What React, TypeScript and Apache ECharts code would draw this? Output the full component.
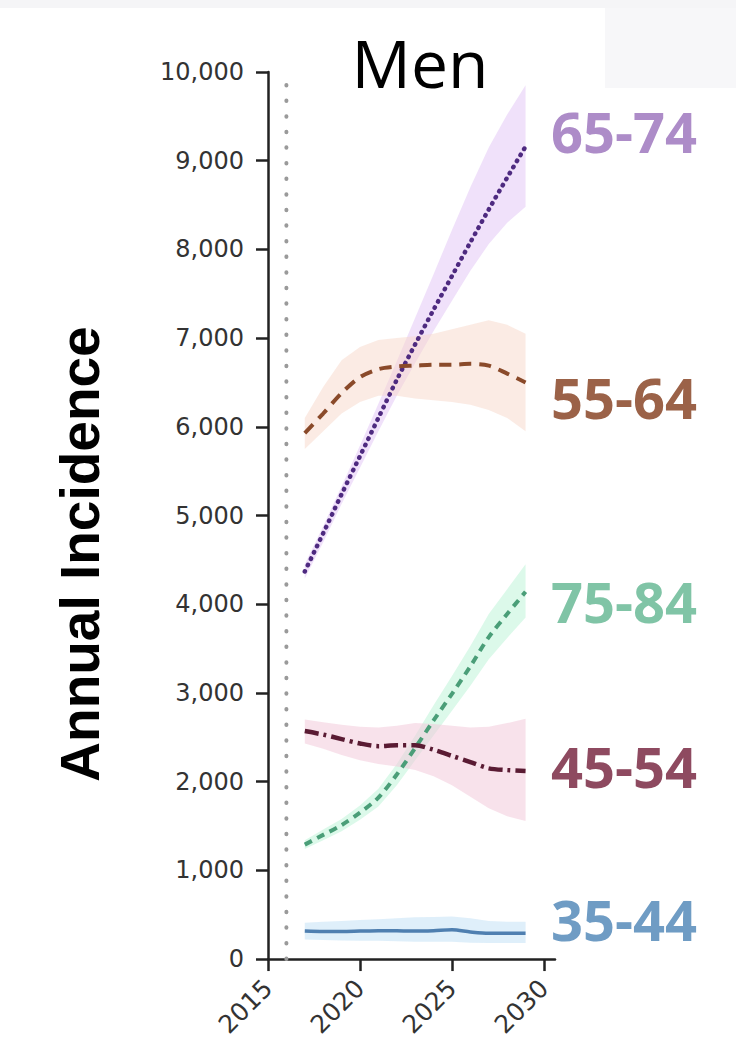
import React, { useEffect, useRef } from "react";
import * as echarts from "echarts";

const years = [2017, 2018, 2019, 2020, 2021, 2022, 2023, 2024, 2025, 2026, 2027, 2028, 2029];

const age6574 = [4370, 4800, 5240, 5670, 6100, 6530, 6930, 7320, 7700, 8080, 8450, 8810, 9160];
const age6574Low = [4290, 4700, 5130, 5540, 5950, 6350, 6720, 7080, 7420, 7760, 8060, 8300, 8480];
const age6574High = [4450, 4880, 5330, 5790, 6260, 6740, 7230, 7720, 8220, 8700, 9150, 9520, 9850];

const age5564 = [5930, 6150, 6380, 6560, 6650, 6680, 6690, 6700, 6700, 6710, 6690, 6600, 6500];
const age5564Low = [5750, 5950, 6150, 6280, 6350, 6350, 6320, 6300, 6280, 6250, 6190, 6100, 5950];
const age5564High = [6100, 6450, 6750, 6900, 6980, 7000, 7020, 7050, 7100, 7150, 7200, 7150, 7050];

const age7584 = [1290, 1400, 1510, 1650, 1820, 2080, 2380, 2690, 2990, 3300, 3630, 3890, 4140];
const age7584Low = [1240, 1340, 1440, 1570, 1720, 1960, 2240, 2520, 2800, 3080, 3380, 3620, 3850];
const age7584High = [1340, 1460, 1580, 1730, 1920, 2200, 2520, 2860, 3190, 3530, 3890, 4170, 4450];

const age4554 = [2570, 2530, 2480, 2430, 2400, 2410, 2410, 2360, 2290, 2220, 2150, 2130, 2120];
const age4554Low = [2430, 2370, 2300, 2240, 2200, 2170, 2130, 2060, 1960, 1830, 1700, 1610, 1555];
const age4554High = [2700, 2670, 2640, 2620, 2610, 2630, 2660, 2650, 2630, 2610, 2620, 2660, 2710];

const age3544 = [315, 310, 310, 315, 320, 318, 315, 320, 330, 305, 290, 290, 290];
const age3544Low = [220, 215, 210, 205, 205, 200, 195, 195, 195, 185, 180, 180, 180];
const age3544High = [410, 420, 430, 440, 450, 460, 470, 475, 480, 460, 430, 420, 420];

const xTicks = [2015, 2020, 2025, 2030];
const startYear = 2016;

const groups = [
  { name: "65-74", line: age6574, low: age6574Low, high: age6574High, lineColor: "#4e2a80", band: "rgba(225,195,246,0.5)", labelColor: "#ad8cc8", dash: [0.5, 6.5] as number[] | string, width: 4.5, cap: "round", labelY: 131 },
  { name: "55-64", line: age5564, low: age5564Low, high: age5564High, lineColor: "#8a4a2a", band: "rgba(248,216,202,0.5)", labelColor: "#9b6248", dash: [12, 8], width: 4, cap: "butt", labelY: 397 },
  { name: "75-84", line: age7584, low: age7584Low, high: age7584High, lineColor: "#4a9e78", band: "rgba(196,245,220,0.6)", labelColor: "#80c4a6", dash: [8, 6], width: 4, cap: "butt", labelY: 601 },
  { name: "45-54", line: age4554, low: age4554Low, high: age4554High, lineColor: "#5a1b33", band: "rgba(242,202,218,0.55)", labelColor: "#8e4a60", dash: [14, 5, 3, 5], width: 4.5, cap: "butt", labelY: 766 },
  { name: "35-44", line: age3544, low: age3544Low, high: age3544High, lineColor: "#4f7fb0", band: "rgba(206,230,248,0.65)", labelColor: "#6f9cc4", dash: "solid", width: 3.5, cap: "butt", labelY: 919 },
];

export default function App() {
  const ref = useRef<HTMLDivElement>(null);
  useEffect(() => {
    if (!ref.current) return;
    const chart = echarts.init(ref.current, null, { renderer: "svg" });
    const series: any[] = [];
    groups.forEach((g) => {
      series.push({
        type: "custom",
        name: g.name + " range",
        data: years.map((y, k) => [y, g.low[k], g.high[k]]),
        encode: { x: 0, y: [1, 2] },
        silent: true,
        z: 1,
        renderItem: (params: any, api: any) => {
          if (params.dataIndex !== 0) return null;
          const upper = years.map((y, k) => api.coord([y, g.high[k]]));
          const lower = years.map((y, k) => api.coord([y, g.low[k]])).reverse();
          return {
            type: "polygon",
            shape: { points: upper.concat(lower) },
            style: { fill: g.band, stroke: "none" },
          };
        },
      });
    });
    groups.forEach((g) => {
      series.push({
        type: "line",
        name: g.name,
        data: years.map((y, k) => [y, g.line[k]]),
        symbol: "none",
        smooth: 0.3,
        lineStyle: { color: g.lineColor, width: g.width, type: g.dash, cap: g.cap },
        z: 3,
      });
    });
    series.push({
      type: "line",
      name: "start",
      data: [[startYear, 0], [startYear, 10000]],
      symbol: "none",
      lineStyle: { color: "#9a9a9a", width: 4, type: [0.5, 15.1], cap: "round" },
      z: 2,
    });

    chart.setOption({
      animation: false,
      backgroundColor: "#ffffff",
      title: {
        text: "Men",
        left: 415,
        top: 24,
        textAlign: "center",
        textStyle: { fontFamily: "Open Sans", fontSize: 66, fontWeight: "normal", color: "#000" },
      },
      grid: { left: 268, right: 181, top: 72, bottom: 80 },
      xAxis: {
        type: "value",
        min: 2015,
        max: 2030.6,
        interval: 5,
        axisLine: { show: true, lineStyle: { color: "#222", width: 2.5 } },
        axisTick: { show: true, length: 12, customValues: xTicks, lineStyle: { color: "#222", width: 2.5 } },
        axisLabel: {
          customValues: xTicks,
          rotate: 45,
          margin: 25,
          fontFamily: "DejaVu Sans",
          fontSize: 25,
          color: "#333",
          formatter: (v: number) => (v % 5 === 0 ? String(v) : ""),
        },
        splitLine: { show: false },
      },
      yAxis: {
        type: "value",
        min: 0,
        max: 10000,
        interval: 1000,
        axisLine: { show: true, lineStyle: { color: "#222", width: 2.5 } },
        axisTick: { show: true, length: 12, lineStyle: { color: "#222", width: 2.5 } },
        axisLabel: {
          margin: 24,
          fontFamily: "DejaVu Sans",
          fontSize: 24,
          color: "#333",
          formatter: (v: number) => v.toLocaleString("en-US"),
        },
        splitLine: { show: false },
      },
      graphic: [
        { type: "rect", shape: { x: 605, y: 0, width: 131, height: 88 }, style: { fill: "#f7f7f9" }, z: -10, silent: true },
        { type: "rect", shape: { x: 0, y: 0, width: 736, height: 8 }, style: { fill: "#f5f5f7" }, z: -10, silent: true },
        {
          type: "text",
          x: 80,
          y: 554,
          rotation: Math.PI / 2,
          style: {
            text: "Annual Incidence",
            fill: "#000",
            font: "bold 55px 'Liberation Sans'",
            textAlign: "center",
            textVerticalAlign: "middle",
          },
          z: 10,
        },
        ...groups.map((g) => ({
          type: "text",
          x: 551,
          y: g.labelY,
          style: {
            text: g.name,
            fill: g.labelColor,
            font: "bold 56px 'Open Sans'",
            textVerticalAlign: "middle",
            textAlign: "left",
          },
          z: 10,
        })),
      ],
      series,
    });
    return () => chart.dispose();
  }, []);
  return <div ref={ref} style={{ position: "absolute", left: 0, top: 0, width: 736, height: 1040 }} />;
}
